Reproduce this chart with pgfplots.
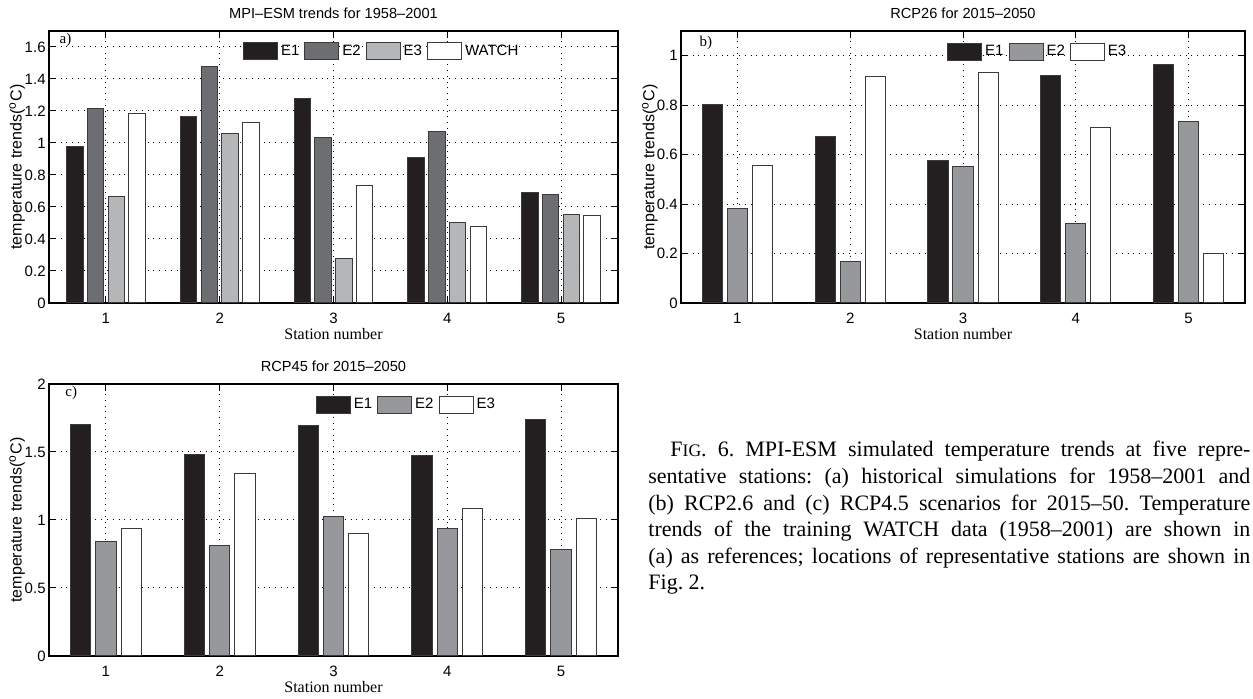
\documentclass[border=0pt]{standalone}
\usepackage{fontspec}
\setmainfont{Liberation Serif}
\setsansfont{Liberation Sans}
\usepackage{pgfplots}
\pgfplotsset{compat=1.18}

\definecolor{cE1}{HTML}{231F20}
\definecolor{cE2a}{HTML}{6D6E72}
\definecolor{cE3a}{HTML}{B5B6B8}
\definecolor{cE2}{HTML}{97989B}
\definecolor{edge}{HTML}{3A3A3A}

\pgfplotsset{
  every axis title shift=0pt,
  myaxis/.style={
    scale only axis, height=136pt,
    xmin=0.5, xmax=5.5, ymin=0,
    xtick={1,2,3,4,5},
    ybar,
    axis line style={line width=0.6pt, black},
    tick style={line width=0.5pt, black},
    major tick length=3.5pt,
    tick align=inside,
    xtick pos=both, ytick pos=both,
    grid=major,
    major grid style={black, line width=0.5pt, dash pattern=on 0.5pt off 2.4pt},
    /pgf/number format/assume math mode=true,
    ticklabel style={font=\sffamily\fontsize{7.5}{9}\selectfont},
    xticklabel style={inner sep=0pt, anchor=north, yshift=-4.85pt},
    yticklabel style={inner sep=0pt, anchor=east, xshift=-1.5pt},
    title style={at={(axis description cs:0.5,1)}, anchor=base, yshift=6.3pt, font=\sffamily\fontsize{7.3}{9}\selectfont},
    xlabel={Station number},
    xlabel style={at={(axis description cs:0.5,0)}, anchor=base, yshift=-18.5pt, font=\rmfamily\fontsize{8}{10}\selectfont},
    ylabel={temperature trends(\textsuperscript{o}C)},
    ylabel style={anchor=center, font=\sffamily\fontsize{8}{10}\selectfont},
    legend columns=-1,
    legend style={draw=none, fill=none, inner sep=0pt, outer sep=0pt, anchor=west,
       font=\sffamily\fontsize{7.5}{9}\selectfont, nodes={inner sep=0pt},
       /tikz/every odd column/.style={column sep=1.5pt},
       /tikz/every even column/.style={column sep=2.5pt}},
  },
  patch/.style={legend image code/.code={\draw[##1, line width=0.5pt] (0pt,-4.25pt) rectangle (17pt,4.25pt);}},
  bara/.style={draw=edge, line width=0.5pt, bar width=0.145, patch},
  barb/.style={draw=edge, line width=0.5pt, bar width=0.178, patch},
}

\begin{document}
\begin{tikzpicture}
\useasboundingbox (0,0) rectangle (626.5pt,349.5pt);

% ---------- panel a ----------
\begin{axis}[myaxis, at={(24.5pt,198pt)}, anchor=south west, width=284.5pt,
  ymax=1.7, ytick={0,0.2,0.4,0.6,0.8,1,1.2,1.4,1.6},
  title={MPI–ESM trends for 1958–2001},
  ylabel style={at={(axis description cs:-0.056,0.5)}},
  legend style={at={(0.341,0.925)}}]
\addplot[bara, fill=cE1, bar shift=-0.273] coordinates {(1,0.981) (2,1.168) (3,1.278) (4,0.912) (5,0.690)};
\addplot[bara, fill=cE2a, bar shift=-0.091] coordinates {(1,1.216) (2,1.475) (3,1.037) (4,1.072) (5,0.679)};
\addplot[bara, fill=cE3a, bar shift=0.091] coordinates {(1,0.665) (2,1.060) (3,0.278) (4,0.503) (5,0.555)};
\addplot[bara, fill=white, bar shift=0.273] coordinates {(1,1.184) (2,1.126) (3,0.736) (4,0.478) (5,0.544)};
\legend{E1,E2,E3,WATCH}
\node[font=\rmfamily\fontsize{7.5}{9}\selectfont, inner sep=0pt] at (rel axis cs:0.029,0.967) {a)};
\end{axis}

% ---------- panel b ----------
\begin{axis}[myaxis, at={(340.5pt,198pt)}, anchor=south west, width=282pt,
  ymax=1.1, ytick={0,0.2,0.4,0.6,0.8,1},
  title={RCP26 for 2015–2050},
  ylabel style={at={(axis description cs:-0.055,0.5)}},
  legend style={at={(0.472,0.923)}}]
\addplot[barb, fill=cE1, bar shift=-0.222] coordinates {(1,0.801) (2,0.673) (3,0.575) (4,0.921) (5,0.966)};
\addplot[barb, fill=cE2, bar shift=0] coordinates {(1,0.384) (2,0.166) (3,0.553) (4,0.323) (5,0.732)};
\addplot[barb, fill=white, bar shift=0.222] coordinates {(1,0.556) (2,0.917) (3,0.933) (4,0.711) (5,0.199)};
\legend{E1,E2,E3}
\node[font=\rmfamily\fontsize{7.5}{9}\selectfont, inner sep=0pt] at (rel axis cs:0.044,0.956) {b)};
\end{axis}

% ---------- panel c ----------
\begin{axis}[myaxis, at={(24.5pt,21.5pt)}, anchor=south west, width=284.5pt,
  ymax=2, ytick={0,0.5,1,1.5,2},
  title={RCP45 for 2015–2050},
  ylabel style={at={(axis description cs:-0.056,0.5)}},
  legend style={at={(0.469,0.923)}}]
\addplot[barb, fill=cE1, bar shift=-0.222] coordinates {(1,1.702) (2,1.485) (3,1.695) (4,1.471) (5,1.741)};
\addplot[barb, fill=cE2, bar shift=0] coordinates {(1,0.844) (2,0.815) (3,1.029) (4,0.939) (5,0.785)};
\addplot[barb, fill=white, bar shift=0.222] coordinates {(1,0.941) (2,1.341) (3,0.898) (4,1.085) (5,1.010)};
\legend{E1,E2,E3}
\node[font=\rmfamily\fontsize{7.5}{9}\selectfont, inner sep=0pt] at (rel axis cs:0.039,0.967) {c)};
\end{axis}

% ---------- caption ----------
\node[anchor=north west, inner sep=0pt, align=left, font=\rmfamily\fontsize{11}{13.3}\selectfont\frenchspacing] at (324pt,129pt) {%
\makebox[301pt][s]{\hspace*{11pt}F{\fontsize{8.8}{10}\selectfont IG}. 6. MPI-ESM simulated temperature trends at five repre-}\\
\makebox[301pt][s]{sentative stations: (a) historical simulations for 1958–2001 and}\\
\makebox[301pt][s]{(b) RCP2.6 and (c) RCP4.5 scenarios for 2015–50. Temperature}\\
\makebox[301pt][s]{trends of the training WATCH data (1958–2001) are shown in}\\
\makebox[301pt][s]{(a) as references; locations of representative stations are shown in}\\
Fig. 2.};
\end{tikzpicture}
\end{document}
